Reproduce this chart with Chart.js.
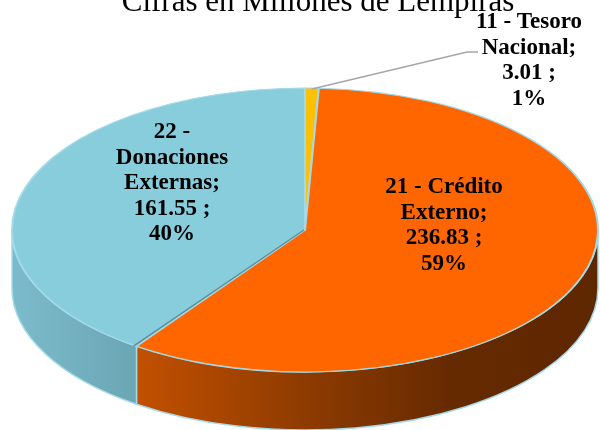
<!DOCTYPE html>
<html>
<head>
<meta charset="utf-8">
<script src="https://cdn.jsdelivr.net/npm/chart.js@4.4.0/dist/chart.umd.min.js"></script>
<style>
  html, body { margin: 0; padding: 0; background: #fff; }
  #wrap { width: 600px; height: 430px; }
</style>
</head>
<body>
<div id="wrap"><canvas id="pieChart" width="600" height="430"></canvas></div>
<script>
// datos
const titleText = 'Cifras en Millones de Lempiras';
const categories = ['11 - Tesoro Nacional', '21 - Crédito Externo', '22 - Donaciones Externas'];
const labelLines = [['11 - Tesoro', 'Nacional;'], ['21 - Crédito', 'Externo;'], ['22 -', 'Donaciones', 'Externas;']];
const amounts = [3.01, 236.83, 161.55];

// estilo
const topColors = ['#FFC000', '#FF6600', '#88CDDC'];
const sideStops = [
    [[0, '#D99E00'], [1, '#7A5A00']],
    [[0, '#D85A00'], [0.2, '#C45100'], [0.5, '#8E3B00'], [0.75, '#662A00'], [1, '#5E2700']],
    [[0, '#7CBBCB'], [0.2, '#6CA7B6'], [1, '#5F93A1']]
];
const edgeColor = '#A3DAE8';
const labelPos = [[529, 28], [444, 193], [172, 138]];
const RX = 293, RY = 142, DEPTH = 58;

function fmtValue(v) {
    return v.toFixed(2) + ' ;';
}

const total = amounts.reduce((a, b) => a + b, 0);

const pie3d = {
    id: 'pie3d',
    beforeDatasetsDraw(chart) {
        const ctx = chart.ctx;
        const arcs = chart.getDatasetMeta(0).data;
        const cx = arcs[0].x, cy = arcs[0].y, r = arcs[0].outerRadius;

        // cara lateral (solo la mitad frontal)
        arcs.forEach((arc, i) => {
            const a0 = Math.max(arc.startAngle, 0);
            const a1 = Math.min(arc.endAngle, Math.PI);
            if (a1 <= a0) return;
            const grad = ctx.createLinearGradient(cx - RX, 0, cx + RX, 0);
            sideStops[i].forEach(s => grad.addColorStop(s[0], s[1]));
            ctx.save();
            ctx.beginPath();
            ctx.moveTo(cx + RX * Math.cos(a0), cy + RY * Math.sin(a0));
            ctx.ellipse(cx, cy, RX, RY, 0, a0, a1, false);
            ctx.lineTo(cx + RX * Math.cos(a1), cy + RY * Math.sin(a1) + DEPTH);
            ctx.ellipse(cx, cy + DEPTH, RX, RY, 0, a1, a0, true);
            ctx.closePath();
            ctx.fillStyle = grad;
            ctx.fill();
            ctx.strokeStyle = edgeColor;
            ctx.lineWidth = 1.5;
            ctx.stroke();
            ctx.restore();
        });

        // cara superior: elipse
        ctx.save();
        ctx.translate(cx, cy);
        ctx.scale(RX / r, RY / r);
        ctx.translate(-cx, -cy);
    },
    afterDatasetsDraw(chart) {
        const ctx = chart.ctx;
        ctx.restore();

        const arcs = chart.getDatasetMeta(0).data;
        const cx = arcs[0].x, cy = arcs[0].y;

        // borde del corte entre crédito y donaciones
        const sa = arcs[2].startAngle;
        ctx.save();
        ctx.strokeStyle = '#5F8F9C';
        ctx.lineWidth = 1.5;
        ctx.beginPath();
        ctx.moveTo(cx - 1, cy);
        ctx.lineTo(cx + RX * Math.cos(sa) - 3, cy + RY * Math.sin(sa));
        ctx.stroke();
        ctx.restore();

        // línea guía del tesoro
        const m = (arcs[0].startAngle + arcs[0].endAngle) / 2;
        ctx.save();
        ctx.strokeStyle = '#A6A6A6';
        ctx.lineWidth = 1.5;
        ctx.beginPath();
        ctx.moveTo(cx + RX * Math.cos(m), cy + RY * Math.sin(m) + 1);
        ctx.lineTo(467, 52);
        ctx.lineTo(478, 52);
        ctx.stroke();
        ctx.restore();
    },
    afterDraw(chart) {
        const ctx = chart.ctx;
        ctx.save();
        ctx.fillStyle = '#000';
        ctx.textAlign = 'center';
        ctx.textBaseline = 'alphabetic';

        ctx.font = '31px "Liberation Serif"';
        ctx.fillText(titleText, 318, 11);

        ctx.font = 'bold 23px "Liberation Serif"';
        amounts.forEach((v, i) => {
            const lines = labelLines[i].concat([fmtValue(v), Math.round(v / total * 100) + '%']);
            lines.forEach((t, j) => {
                ctx.fillText(t, labelPos[i][0], labelPos[i][1] + j * 25.5);
            });
        });
        ctx.restore();
    }
};

const ctx = document.getElementById('pieChart').getContext('2d');
const myChart = new Chart(ctx, {
    type: 'pie',
    data: {
        labels: categories,
        datasets: [{
            data: amounts,
            backgroundColor: topColors,
            borderColor: edgeColor,
            borderWidth: 1,
            hoverOffset: 0,
            clip: false
        }]
    },
    options: {
        responsive: false,
        animation: false,
        events: [],
        layout: { padding: { left: 10, right: 0, top: 88, bottom: 58 } },
        plugins: {
            legend: { display: false },
            tooltip: { enabled: false },
            title: { display: false }
        }
    },
    plugins: [pie3d]
});
</script>
</body>
</html>
